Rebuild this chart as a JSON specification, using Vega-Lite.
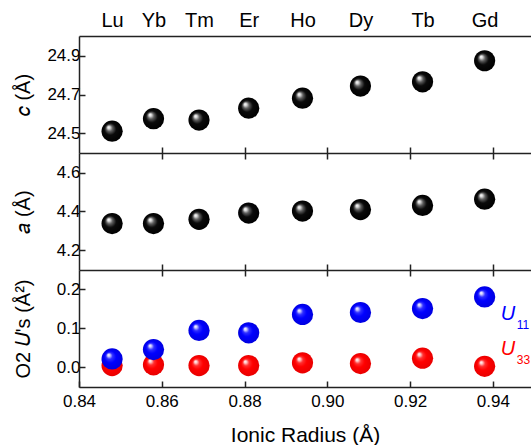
{
  "$schema": "https://vega.github.io/schema/vega-lite/v6.json",
  "padding": {"left": 13, "top": 10, "right": 0, "bottom": 0},
  "background": "white",
  "config": {
    "view": {"stroke": null},
    "font": "Liberation Sans",
    "axis": {
      "labelFont": "Liberation Sans", "labelFontSize": 17, "labelColor": "#000",
      "titleFont": "Liberation Sans", "titleFontSize": 20, "titleFontWeight": "normal", "titleColor": "#000",
      "domainColor": "#222", "tickColor": "#222", "domainWidth": 1.5, "tickWidth": 1.5,
      "grid": false, "labelOverlap": false, "labelFlush": false
    }
  },
  "datasets": {
    "d": [
      {"el": "Lu", "r": 0.848, "c": 24.512, "a": 4.338, "U11": 0.022, "U33": 0.005},
      {"el": "Yb", "r": 0.858, "c": 24.576, "a": 4.338, "U11": 0.046, "U33": 0.007},
      {"el": "Tm", "r": 0.869, "c": 24.569, "a": 4.36, "U11": 0.095, "U33": 0.005},
      {"el": "Er", "r": 0.881, "c": 24.63, "a": 4.392, "U11": 0.089, "U33": 0.005},
      {"el": "Ho", "r": 0.894, "c": 24.681, "a": 4.402, "U11": 0.136, "U33": 0.012},
      {"el": "Dy", "r": 0.908, "c": 24.743, "a": 4.41, "U11": 0.141, "U33": 0.01},
      {"el": "Tb", "r": 0.923, "c": 24.765, "a": 4.431, "U11": 0.151, "U33": 0.024},
      {"el": "Gd", "r": 0.938, "c": 24.873, "a": 4.463, "U11": 0.181, "U33": 0.003}
    ],
    "lab": [
      {"n": "U11", "r": 0.9419, "v": 0.122, "s": "11"},
      {"n": "U33", "r": 0.9419, "v": 0.032, "s": "33"}
    ]
  },
  "spacing": 0,
  "bounds": "flush",
  "vconcat": [
    {
      "width": 452, "height": 117,
      "data": {"name": "d"},
      "layer": [
        {
          "mark": {"type": "circle", "size": 450, "opacity": 1,
            "fill": {"gradient": "radial", "x1": 0.32, "y1": 0.3, "r1": 0, "x2": 0.5, "y2": 0.5, "r2": 0.5,
              "stops": [{"offset": 0, "color": "#ffffff"}, {"offset": 0.12, "color": "#e0e0e0"}, {"offset": 0.3, "color": "#606060"}, {"offset": 0.55, "color": "#0a0a0a"}, {"offset": 1, "color": "#000000"}]}},
          "encoding": {
            "x": {"field": "r", "type": "quantitative", "scale": {"domain": [0.84, 0.9492], "nice": false, "zero": false},
              "axis": {"orient": "top", "values": [0.848, 0.858, 0.869, 0.881, 0.894, 0.908, 0.923, 0.938],
                "labelExpr": "datum.value < 0.85 ? 'Lu' : datum.value < 0.86 ? 'Yb' : datum.value < 0.87 ? 'Tm' : datum.value < 0.885 ? 'Er' : datum.value < 0.9 ? 'Ho' : datum.value < 0.915 ? 'Dy' : datum.value < 0.93 ? 'Tb' : 'Gd'",
                "ticks": false, "labelFontSize": 20, "labelPadding": 6, "title": null}},
            "y": {"field": "c", "type": "quantitative", "scale": {"domain": [24.4, 25.0], "nice": false, "zero": false},
              "axis": {"values": [24.5, 24.7, 24.9], "format": ".1f", "tickSize": -6, "labelPadding": 5, "title": "𝑐 (Å)", "titleX": -46}}
          }
        },
        {
          "mark": {"type": "circle", "opacity": 0},
          "encoding": {
            "x": {"field": "r", "type": "quantitative",
              "axis": {"orient": "bottom", "values": [0.86, 0.88, 0.9, 0.92, 0.94], "labels": false, "tickSize": -6, "title": null}},
            "y": {"field": "c", "type": "quantitative"}
          }
        }
      ],
      "resolve": {"axis": {"x": "independent"}}
    },
    {
      "width": 452, "height": 117,
      "data": {"name": "d"},
      "layer": [
        {
          "mark": {"type": "circle", "size": 450, "opacity": 1,
            "fill": {"gradient": "radial", "x1": 0.32, "y1": 0.3, "r1": 0, "x2": 0.5, "y2": 0.5, "r2": 0.5,
              "stops": [{"offset": 0, "color": "#ffffff"}, {"offset": 0.12, "color": "#e0e0e0"}, {"offset": 0.3, "color": "#606060"}, {"offset": 0.55, "color": "#0a0a0a"}, {"offset": 1, "color": "#000000"}]}},
          "encoding": {
            "x": {"field": "r", "type": "quantitative", "scale": {"domain": [0.84, 0.9492], "nice": false, "zero": false},
              "axis": {"orient": "bottom", "values": [0.86, 0.88, 0.9, 0.92, 0.94], "labels": false, "tickSize": -6, "title": null}},
            "y": {"field": "a", "type": "quantitative", "scale": {"domain": [4.1, 4.7], "nice": false, "zero": false},
              "axis": {"values": [4.2, 4.4, 4.6], "format": ".1f", "tickSize": -6, "labelPadding": 5, "title": "𝑎 (Å)", "titleX": -46}}
          }
        },
        {
          "mark": {"type": "circle", "opacity": 0},
          "encoding": {
            "x": {"field": "r", "type": "quantitative",
              "axis": {"orient": "top", "values": [0.86, 0.88, 0.9, 0.92, 0.94], "labels": false, "domain": false, "tickSize": -6, "title": null}},
            "y": {"field": "a", "type": "quantitative"}
          }
        }
      ],
      "resolve": {"axis": {"x": "independent"}}
    },
    {
      "width": 452, "height": 117,
      "layer": [
        {
          "data": {"name": "d"},
          "mark": {"type": "circle", "size": 450, "opacity": 1,
            "fill": {"gradient": "radial", "x1": 0.32, "y1": 0.3, "r1": 0, "x2": 0.5, "y2": 0.5, "r2": 0.5,
              "stops": [{"offset": 0, "color": "#ffffff"}, {"offset": 0.12, "color": "#ffd0d0"}, {"offset": 0.3, "color": "#ff3030"}, {"offset": 0.55, "color": "#ff0000"}, {"offset": 1, "color": "#e80000"}]}},
          "encoding": {
            "x": {"field": "r", "type": "quantitative", "scale": {"domain": [0.84, 0.9492], "nice": false, "zero": false},
              "axis": {"orient": "bottom", "values": [0.84, 0.86, 0.88, 0.9, 0.92, 0.94], "format": ".2f", "tickSize": -6, "labelPadding": 12, "title": "Ionic Radius (Å)", "titleFontSize": 21, "titlePadding": 15}},
            "y": {"field": "U33", "type": "quantitative", "scale": {"domain": [-0.05, 0.25], "nice": false, "zero": false},
              "axis": {"values": [0, 0.1, 0.2], "format": ".1f", "tickSize": -6, "labelPadding": 5, "title": "O2 𝑈's (Å²)", "titleX": -46}}
          }
        },
        {
          "data": {"name": "d"},
          "mark": {"type": "circle", "size": 450, "opacity": 1,
            "fill": {"gradient": "radial", "x1": 0.32, "y1": 0.3, "r1": 0, "x2": 0.5, "y2": 0.5, "r2": 0.5,
              "stops": [{"offset": 0, "color": "#ffffff"}, {"offset": 0.12, "color": "#d0d0ff"}, {"offset": 0.3, "color": "#3030ff"}, {"offset": 0.55, "color": "#0000ff"}, {"offset": 1, "color": "#0000e0"}]}},
          "encoding": {
            "x": {"field": "r", "type": "quantitative", "axis": null},
            "y": {"field": "U11", "type": "quantitative", "axis": {"title": "O2 𝑈's (Å²)", "values": [0, 0.1, 0.2], "format": ".1f", "tickSize": -6, "labelPadding": 5, "titleX": -46}}
          }
        },
        {
          "data": {"name": "d"},
          "mark": {"type": "circle", "opacity": 0},
          "encoding": {
            "x": {"field": "r", "type": "quantitative",
              "axis": {"orient": "top", "values": [0.86, 0.88, 0.9, 0.92, 0.94], "labels": false, "domain": false, "tickSize": -6, "title": null}},
            "y": {"field": "U33", "type": "quantitative"}
          }
        },
        {
          "data": {"name": "lab"},
          "transform": [{"filter": "datum.n == 'U11'"}],
          "mark": {"type": "text", "text": "U", "font": "Liberation Sans", "fontStyle": "italic", "fontSize": 20, "align": "left", "baseline": "alphabetic", "color": "#0000ff"},
          "encoding": {"x": {"field": "r", "type": "quantitative", "axis": null}, "y": {"field": "v", "type": "quantitative"}}
        },
        {
          "data": {"name": "lab"},
          "transform": [{"filter": "datum.n == 'U11'"}],
          "mark": {"type": "text", "font": "Liberation Sans", "fontSize": 12, "align": "left", "baseline": "alphabetic", "dx": 16, "dy": 9, "color": "#0000ff"},
          "encoding": {"x": {"field": "r", "type": "quantitative", "axis": null}, "y": {"field": "v", "type": "quantitative"}, "text": {"field": "s"}}
        },
        {
          "data": {"name": "lab"},
          "transform": [{"filter": "datum.n == 'U33'"}],
          "mark": {"type": "text", "text": "U", "font": "Liberation Sans", "fontStyle": "italic", "fontSize": 20, "align": "left", "baseline": "alphabetic", "color": "#ff0000"},
          "encoding": {"x": {"field": "r", "type": "quantitative", "axis": null}, "y": {"field": "v", "type": "quantitative"}}
        },
        {
          "data": {"name": "lab"},
          "transform": [{"filter": "datum.n == 'U33'"}],
          "mark": {"type": "text", "font": "Liberation Sans", "fontSize": 12, "align": "left", "baseline": "alphabetic", "dx": 16, "dy": 9, "color": "#ff0000"},
          "encoding": {"x": {"field": "r", "type": "quantitative", "axis": null}, "y": {"field": "v", "type": "quantitative"}, "text": {"field": "s"}}
        }
      ],
      "resolve": {"axis": {"x": "independent"}}
    }
  ]
}
